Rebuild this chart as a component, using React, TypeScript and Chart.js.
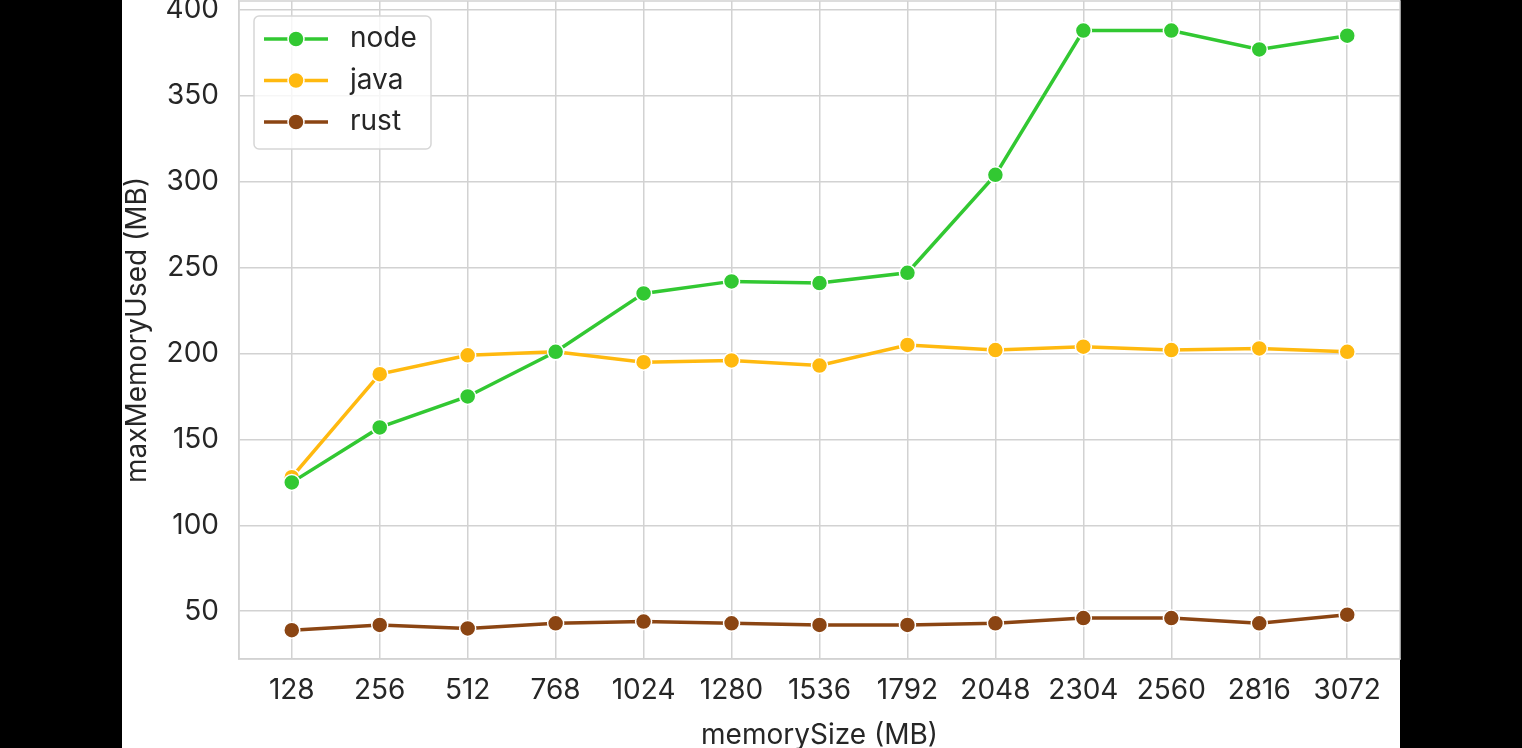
import React, { useEffect, useRef } from "react";
import { Chart, registerables } from "chart.js";

Chart.register(...registerables);

const categories = ["128", "256", "512", "768", "1024", "1280", "1536", "1792", "2048", "2304", "2560", "2816", "3072"];
const nodeValues = [125, 157, 175, 201, 235, 242, 241, 247, 304, 388, 388, 377, 385];
const javaValues = [128, 188, 199, 201, 195, 196, 193, 205, 202, 204, 202, 203, 201];
const rustValues = [39, 42, 40, 43, 44, 43, 42, 42, 43, 46, 46, 43, 48];
const yTicks = [50, 100, 150, 200, 250, 300, 350, 400];

const seriesNames = ["node", "java", "rust"];
const seriesColors = ["#32C832", "#FFB90F", "#8B4513"];

const FONT = "Inter, 'DejaVu Sans', sans-serif";
const FS = 28;
const TEXT = "#262626";
const GRID = "#d2d2d2";

const framePlugin = {
  id: "frame",
  beforeDraw(chart: any) {
    const { ctx, width, height } = chart;
    ctx.save();
    ctx.fillStyle = "#000";
    ctx.fillRect(0, 0, width, height);
    ctx.fillStyle = "#fff";
    ctx.fillRect(122, 0, 1278, height);
    ctx.restore();
  },
  afterDraw(chart: any) {
    const { ctx, chartArea } = chart;
    const { left, right, top, bottom } = chartArea;
    ctx.save();
    ctx.strokeStyle = GRID;
    ctx.lineWidth = 1.5;
    ctx.strokeRect(left, top, right - left, bottom - top);

    // legend
    const bx = left + 15;
    const by = top + 15;
    const bw = 177;
    const bh = 133;
    ctx.beginPath();
    ctx.roundRect(bx, by, bw, bh, 5);
    ctx.fillStyle = "rgba(255,255,255,0.8)";
    ctx.fill();
    ctx.strokeStyle = "#d6d6d6";
    ctx.lineWidth = 1.5;
    ctx.stroke();
    chart.data.datasets.forEach((ds: any, i: number) => {
      const cy = by + 23 + i * 41.5;
      ctx.strokeStyle = ds.borderColor;
      ctx.lineWidth = 3.5;
      ctx.beginPath();
      ctx.moveTo(bx + 10, cy);
      ctx.lineTo(bx + 74, cy);
      ctx.stroke();
      ctx.beginPath();
      ctx.arc(bx + 42, cy, 8, 0, Math.PI * 2);
      ctx.fillStyle = ds.borderColor;
      ctx.fill();
      ctx.strokeStyle = "#fff";
      ctx.lineWidth = 1.5;
      ctx.stroke();
      ctx.fillStyle = TEXT;
      ctx.font = `${FS}px ${FONT}`;
      ctx.textBaseline = "middle";
      ctx.textAlign = "left";
      ctx.fillText(ds.label, bx + 96, cy);
    });
    ctx.restore();
  },
};

export default function App() {
  const ref = useRef<HTMLCanvasElement>(null);
  useEffect(() => {
    document.body.style.margin = "0";
    const seriesData = [nodeValues, javaValues, rustValues];
    const chart = new Chart(ref.current!, {
      type: "line",
      data: {
        datasets: seriesData.map((vals, i) => ({
          label: seriesNames[i],
          data: vals.map((v, j) => ({ x: j, y: v })),
          borderColor: seriesColors[i],
          backgroundColor: seriesColors[i],
          pointBackgroundColor: seriesColors[i],
          pointBorderColor: "#ffffff",
          pointBorderWidth: 1.5,
          pointRadius: 8,
          borderWidth: 3.5,
          tension: 0,
          clip: 12,
        })),
      },
      options: {
        animation: false,
        responsive: false,
        layout: { autoPadding: false, padding: { left: 122, right: 122, top: 1, bottom: 0 } },
        plugins: { legend: { display: false }, tooltip: { enabled: false } },
        scales: {
          x: {
            type: "linear",
            min: -0.6,
            max: 12.6,
            afterBuildTicks: (s: any) => {
              s.ticks = categories.map((_, i) => ({ value: i }));
            },
            afterFit: (s: any) => {
              s.height = 89;
              s.paddingLeft = 0;
              s.paddingRight = 0;
            },
            ticks: {
              callback: (v: any) => categories[v] ?? "",
              color: TEXT,
              font: { family: FONT, size: FS },
              padding: 15,
              maxRotation: 0,
              autoSkip: false,
            },
            grid: { color: GRID, lineWidth: 1.5, drawTicks: false },
            border: { color: GRID, width: 1.5 },
            title: {
              display: true,
              text: "memorySize (MB)",
              color: TEXT,
              font: { family: FONT, size: FS, lineHeight: 0.9 },
              padding: 0,
            },
          },
          y: {
            min: 22.2,
            max: 405.2,
            afterBuildTicks: (s: any) => {
              s.ticks = yTicks.map((v) => ({ value: v }));
            },
            afterFit: (s: any) => {
              s.width = 117;
              s.paddingTop = 0;
              s.paddingBottom = 0;
            },
            ticks: {
              color: TEXT,
              font: { family: FONT, size: FS },
              padding: 20,
            },
            grid: { color: GRID, lineWidth: 1.5, drawTicks: false },
            border: { color: GRID, width: 1.5 },
            title: {
              display: true,
              text: "maxMemoryUsed (MB)",
              color: TEXT,
              font: { family: FONT, size: FS, lineHeight: 1.1 },
              padding: 0,
            },
          },
        },
      },
      plugins: [framePlugin],
    } as any);
    return () => chart.destroy();
  }, []);
  return <canvas ref={ref} width={1522} height={748} style={{ display: "block" }} />;
}
